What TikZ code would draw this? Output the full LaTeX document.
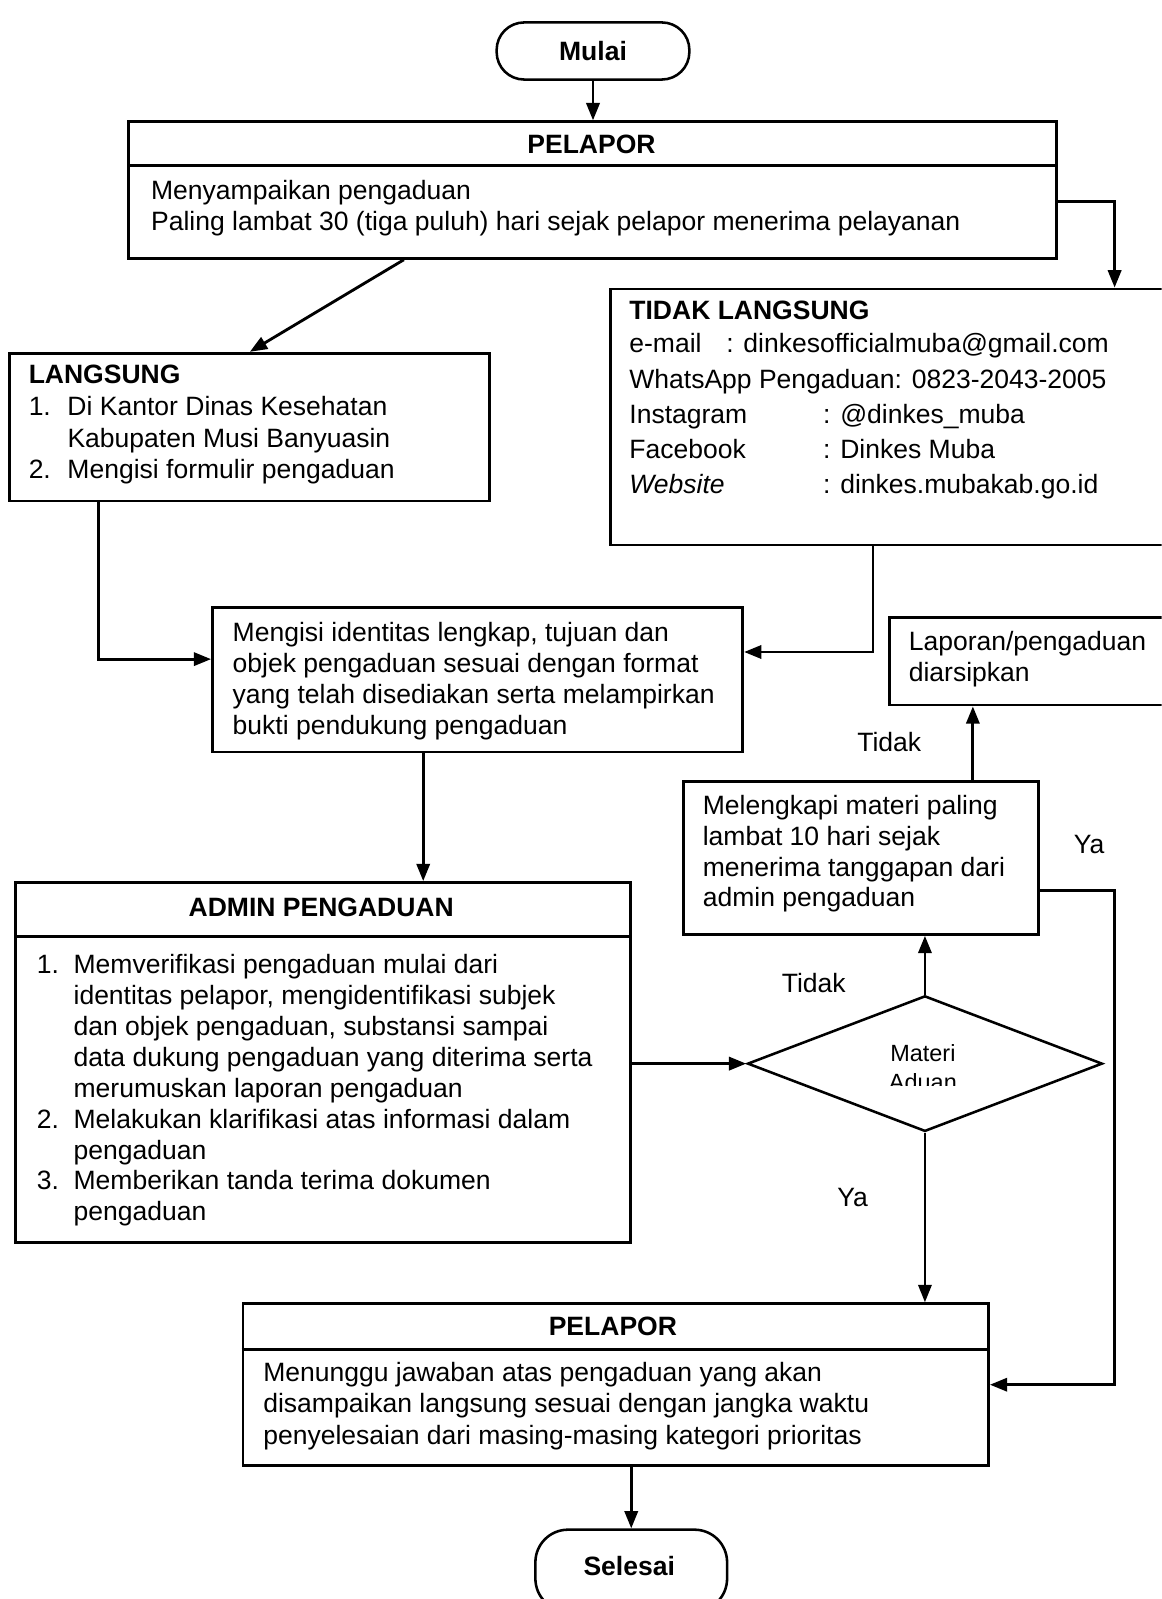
\documentclass[tikz,border=0pt]{standalone}
\usepackage{fontspec}
\setmainfont{Liberation Sans}
\usetikzlibrary{arrows.meta,shapes.geometric,calc}
\begin{document}
\begin{tikzpicture}[x=1pt,y=-1pt,
  box/.style={draw, line width=2.7pt, inner sep=0pt, anchor=north west, rectangle},
  term/.style={draw, line width=2.5pt, rectangle, rounded corners=27pt, inner sep=0pt, font=\fontsize{26}{30}\selectfont\bfseries},
  txt/.style={anchor=north west, inner sep=0pt, align=left, font=\fontsize{26}{30}\selectfont},
  head/.style={inner sep=0pt, font=\fontsize{26}{30}\selectfont\bfseries},
  lbl/.style={inner sep=0pt, font=\fontsize{26}{30}\selectfont},
  ln/.style={line width=2.7pt},
  arr/.style={line width=2.8pt, -{Triangle[length=17pt,width=13pt]}}]
\useasboundingbox (0,0) rectangle (1139,1568);
\clip (0,0) rectangle (1139,1568);

% Mulai
\node[term, minimum width=189pt, minimum height=56pt] (mulai) at (581.5,50) {Mulai};

% PELAPOR 1
\node[box, minimum width=910pt, minimum height=134pt] (p1) at (125,118) {};
\draw[ln] ([yshift=-44pt]p1.north west) -- ([yshift=-44pt]p1.north east);
\node[head] (p1h) at (580,142) {PELAPOR};
\node[txt] (p1t) at (148,177) {Menyampaikan pengaduan\\Paling lambat 30 (tiga puluh) hari sejak pelapor menerima pelayanan};

% LANGSUNG
\node[box, minimum width=471pt, minimum height=145pt] (ls) at (8,345) {};
\node[txt, font=\fontsize{26}{31}\selectfont] (lst) at (28,358) {\textbf{LANGSUNG}\\\makebox[38pt][l]{1.}Di Kantor Dinas Kesehatan\\\hspace*{38pt}Kabupaten Musi Banyuasin\\\makebox[38pt][l]{2.}Mengisi formulir pengaduan};

% TIDAK LANGSUNG
\node[box, minimum width=560pt, minimum height=251pt] (tl) at (597,282) {};
\node[txt] (tlh) at (617,295) {\textbf{TIDAK LANGSUNG}};
\node[txt, font=\fontsize{26}{34.5}\selectfont] (tlt) at (617,327) {\makebox[95pt][l]{e-mail}: dinkesofficialmuba@gmail.com\\WhatsApp Pengaduan: 0823-2043-2005\\\makebox[190pt][l]{Instagram}: @dinkes\_muba\\\makebox[190pt][l]{Facebook}: Dinkes Muba\\\makebox[190pt][l]{\itshape Website}: dinkes.mubakab.go.id};

% Mengisi identitas
\node[box, minimum width=520pt, minimum height=142pt] (mg) at (207,594) {};
\node[txt, font=\fontsize{26}{30.3}\selectfont] (mgt) at (228,610) {Mengisi identitas lengkap, tujuan dan\\objek pengaduan sesuai dengan format\\yang telah disediakan serta melampirkan\\bukti pendukung pengaduan};

% ADMIN PENGADUAN
\node[box, minimum width=603pt, minimum height=353pt] (ad) at (14,864) {};
\draw[ln] ([yshift=-54pt]ad.north west) -- ([yshift=-54pt]ad.north east);
\node[head] (adh) at (315,890) {ADMIN PENGADUAN};
\node[txt, font=\fontsize{26}{30.25}\selectfont] (adt) at (36,936) {\makebox[36pt][l]{1.}Memverifikasi pengaduan mulai dari\\\hspace*{36pt}identitas pelapor, mengidentifikasi subjek\\\hspace*{36pt}dan objek pengaduan, substansi sampai\\\hspace*{36pt}data dukung pengaduan yang diterima serta\\\hspace*{36pt}merumuskan laporan pengaduan\\\makebox[36pt][l]{2.}Melakukan klarifikasi atas informasi dalam\\\hspace*{36pt}pengaduan\\\makebox[36pt][l]{3.}Memberikan tanda terima dokumen\\\hspace*{36pt}pengaduan};

% Diamond
\node[draw, diamond, line width=2.5pt, inner sep=0pt, minimum width=348pt, minimum height=133pt] (dm) at (907,1043) {};
\node[inner sep=0pt, font=\fontsize{23}{27}\selectfont] (dm1) at (905,1033) {Materi};
\begin{scope}
\clip (840,1040) rectangle (970,1064);
\node[inner sep=0pt, font=\fontsize{23}{27}\selectfont] (dm2) at (905,1061) {Aduan};
\end{scope}

% Melengkapi
\node[box, minimum width=348pt, minimum height=150pt] (ml) at (669,765) {};
\node[txt] (mlt) at (689,780) {Melengkapi materi paling\\lambat 10 hari sejak\\menerima tanggapan dari\\admin pengaduan};

% Laporan diarsipkan
\node[box, minimum width=300pt, minimum height=86pt] (lp) at (871,604) {};
\node[txt] (lpt) at (891,619) {Laporan/pengaduan\\diarsipkan};

% PELAPOR 2
\node[box, minimum width=731pt, minimum height=159pt] (p2) at (237,1277) {};
\draw[ln] ([yshift=-46pt]p2.north west) -- ([yshift=-46pt]p2.north east);
\node[head] (p2h) at (601,1301) {PELAPOR};
\node[txt, font=\fontsize{26}{30.5}\selectfont] (p2t) at (258,1336) {Menunggu jawaban atas pengaduan yang akan\\disampaikan langsung sesuai dengan jangka waktu\\penyelesaian dari masing-masing kategori prioritas};

% Selesai
\node[term, minimum width=188pt, minimum height=80pt, rounded corners=32pt] (se) at (619,1540) {};
\node[head] (set) at (617,1536) {Selesai};

% Labels
\node[lbl] (l1) at (798,964) {Tidak};
\node[lbl] (l2) at (872,728) {Tidak};
\node[lbl] (l3) at (1068,828) {Ya};
\node[lbl] (l4) at (836,1174) {Ya};

% Connectors
\draw[arr] (mulai.south) -- (mulai.south |- p1.north);
\draw[arr] ([yshift=-11pt]p1.east) -| ([xshift=496pt]tl.north west);
\draw[arr] ([xshift=271pt]p1.south west) -- ([xshift=237pt]ls.north west);
\draw[arr] ([xshift=89pt]ls.south west) |- ([yshift=20pt]mg.west);
\draw[arr] ([xshift=259pt]tl.south west) |- ([yshift=27pt]mg.east);
\draw[arr] ([xshift=208pt]mg.south west) -- ([xshift=208pt]mg.south west |- ad.north);
\draw[arr] (ad.east |- dm.west) -- (dm.west);
\draw[arr] (dm.north) -- (dm.north |- ml.south);
\draw[arr] ([xshift=285pt]ml.north west) -- ([xshift=285pt]ml.north west |- lp.south);
\draw[arr] ([yshift=-32pt]ml.east) -- ++(73,0) |- (p2.east);
\draw[arr, line width=2.3pt] (dm.south) -- (dm.south |- p2.north);
\draw[arr] (se.north |- p2.south) -- (se.north);
\end{tikzpicture}
\end{document}
